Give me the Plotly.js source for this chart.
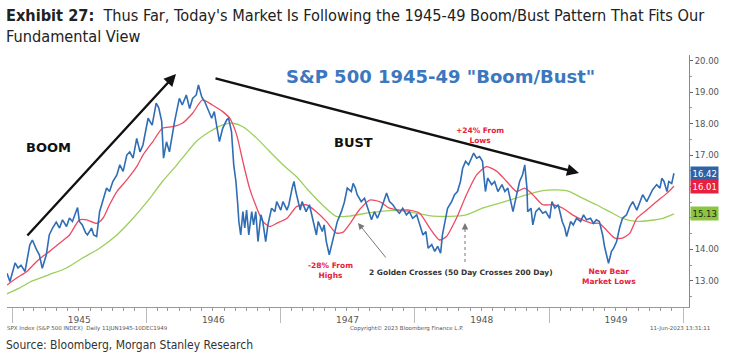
<!DOCTYPE html>
<html><head><meta charset="utf-8">
<script src="https://cdn.plot.ly/plotly-3.0.1.min.js"></script>
<style>html,body{margin:0;padding:0;background:#fff}#chart{width:729px;height:359px}</style>
</head><body><div id="chart"></div>
<script>
const priceDates = ["1944-12-18","1944-12-26","1945-01-09","1945-01-17","1945-01-25","1945-02-05","1945-02-18","1945-02-25","1945-03-08","1945-03-16","1945-03-24","1945-04-04","1945-04-12","1945-04-21","1945-05-01","1945-05-10","1945-05-18","1945-05-29","1945-06-06","1945-06-14","1945-06-28","1945-07-03","1945-07-11","1945-07-20","1945-07-25","1945-08-05","1945-08-11","1945-08-19","1945-08-27","1945-09-05","1945-09-15","1945-09-23","1945-10-02","1945-10-13","1945-10-21","1945-10-30","1945-11-09","1945-11-17","1945-11-26","1945-12-06","1945-12-15","1945-12-23","1946-01-06","1946-01-17","1946-01-28","1946-02-04","1946-02-12","1946-02-17","1946-02-25","1946-03-05","1946-03-13","1946-03-19","1946-04-01","1946-04-09","1946-04-20","1946-04-29","1946-05-07","1946-05-17","1946-05-23","1946-06-01","1946-06-09","1946-06-17","1946-06-28","1946-07-05","1946-07-14","1946-07-19","1946-07-28","1946-08-08","1946-08-13","1946-08-21","1946-08-27","1946-09-02","1946-09-07","1946-09-10","1946-09-15","1946-09-21","1946-09-26","1946-10-01","1946-10-07","1946-10-15","1946-10-20","1946-10-26","1946-11-01","1946-11-09","1946-11-14","1946-11-22","1946-11-28","1946-12-08","1946-12-17","1946-12-22","1947-01-02","1947-01-08","1947-01-19","1947-01-24","1947-02-02","1947-02-07","1947-02-12","1947-02-17","1947-02-24","1947-03-01","1947-03-12","1947-03-21","1947-03-29","1947-04-09","1947-04-14","1947-04-25","1947-04-30","1947-05-06","1947-05-14","1947-05-22","1947-05-28","1947-06-05","1947-06-16","1947-06-24","1947-07-02","1947-07-13","1947-07-18","1947-07-24","1947-07-29","1947-08-09","1947-08-18","1947-08-26","1947-09-06","1947-09-14","1947-09-22","1947-10-03","1947-10-17","1947-10-25","1947-11-03","1947-11-13","1947-11-21","1947-11-30","1947-12-10","1947-12-18","1947-12-27","1948-01-07","1948-01-15","1948-01-24","1948-02-01","1948-02-07","1948-02-17","1948-02-25","1948-03-04","1948-03-12","1948-03-17","1948-03-26","1948-03-31","1948-04-11","1948-04-19","1948-04-27","1948-05-05","1948-05-11","1948-05-19","1948-05-27","1948-06-04","1948-06-10","1948-06-18","1948-06-26","1948-07-04","1948-07-12","1948-07-18","1948-07-29","1948-08-06","1948-08-15","1948-08-26","1948-09-03","1948-09-11","1948-09-19","1948-09-25","1948-10-05","1948-10-13","1948-10-21","1948-10-27","1948-11-02","1948-11-04","1948-11-13","1948-11-18","1948-11-26","1948-12-05","1948-12-15","1948-12-23","1949-01-03","1949-01-09","1949-01-17","1949-01-26","1949-02-06","1949-02-13","1949-02-18","1949-03-01","1949-03-08","1949-03-17","1949-03-28","1949-04-05","1949-04-13","1949-04-24","1949-05-02","1949-05-10","1949-05-18","1949-05-27","1949-06-01","1949-06-07","1949-06-12","1949-06-20","1949-06-26","1949-07-04","1949-07-12","1949-07-20","1949-07-31","1949-08-09","1949-08-17","1949-08-28","1949-09-05","1949-09-13","1949-09-24","1949-10-02","1949-10-10","1949-10-21","1949-10-30","1949-11-04","1949-11-10","1949-11-18","1949-11-23","1949-12-01","1949-12-07"];
const priceValues = [13.24,12.98,13.57,13.41,13.50,13.30,14.14,14.30,14.00,13.83,13.40,13.83,14.46,14.68,14.87,14.68,14.94,14.73,15.00,14.89,15.33,14.89,14.78,14.53,14.46,14.68,14.46,14.41,15.20,15.52,15.95,15.84,16.16,16.37,16.69,16.48,17.00,17.10,16.90,17.53,17.10,17.32,18.17,17.95,18.65,18.50,18.07,16.90,17.42,17.10,17.74,18.06,18.80,18.59,18.91,18.48,18.80,18.91,19.23,18.85,18.70,18.48,18.17,18.38,17.74,17.43,17.85,18.12,18.17,17.74,16.69,16.16,15.42,14.88,14.46,15.20,14.68,15.25,14.46,15.20,14.78,15.20,14.25,15.10,14.89,14.25,14.78,15.31,15.20,15.52,15.25,15.52,15.25,15.42,15.95,16.16,15.84,15.63,15.25,15.52,15.20,15.42,14.99,14.46,14.89,14.57,14.78,14.25,13.83,14.25,14.46,14.89,15.20,15.50,15.95,15.84,16.10,15.95,15.74,15.52,15.63,15.31,14.94,15.20,14.99,15.31,15.79,15.52,15.42,15.25,15.15,15.31,15.10,15.20,14.99,15.10,14.78,14.46,14.57,14.04,14.15,13.94,14.10,13.88,14.46,15.10,15.31,15.52,15.74,15.84,16.16,16.58,16.80,16.69,16.90,17.06,16.90,16.95,16.80,15.84,16.27,16.06,16.16,15.84,16.06,15.84,15.95,15.50,15.20,15.74,16.16,16.37,16.69,15.95,15.20,15.31,14.78,15.20,15.31,15.15,15.20,14.99,15.52,15.31,15.42,14.89,14.68,14.41,14.89,14.78,14.99,14.89,15.10,14.94,14.99,14.83,14.94,14.89,14.46,14.10,13.83,13.56,13.94,14.04,14.25,14.68,14.99,15.10,15.36,15.52,15.25,15.47,15.74,15.52,15.74,15.90,16.06,15.95,16.26,16.16,15.84,16.16,16.10,16.42];

const ma50Dates = ["1944-12-18","1945-01-14","1945-02-10","1945-03-08","1945-03-24","1945-04-12","1945-05-10","1945-06-06","1945-07-03","1945-07-23","1945-08-19","1945-09-05","1945-09-23","1945-10-13","1945-11-09","1945-12-06","1945-12-23","1946-01-19","1946-02-14","1946-03-13","1946-04-09","1946-05-07","1946-06-03","1946-06-30","1946-07-28","1946-08-16","1946-09-04","1946-09-21","1946-10-09","1946-10-29","1946-11-14","1946-12-03","1946-12-22","1947-01-19","1947-02-14","1947-03-12","1947-04-09","1947-05-06","1947-06-02","1947-06-21","1947-07-07","1947-08-04","1947-09-01","1947-09-28","1947-10-25","1947-11-21","1947-12-18","1948-01-15","1948-02-12","1948-03-09","1948-03-28","1948-04-24","1948-05-21","1948-06-18","1948-07-15","1948-08-12","1948-09-08","1948-10-05","1948-10-27","1948-11-18","1948-12-15","1949-01-12","1949-02-08","1949-03-06","1949-04-02","1949-04-29","1949-05-18","1949-06-10","1949-06-29","1949-07-20","1949-08-09","1949-08-28","1949-09-24","1949-10-21","1949-11-18","1949-12-07"];
const ma50Values = [12.87,13.10,13.30,13.61,13.77,13.93,14.20,14.46,14.94,14.94,14.83,14.99,15.42,15.84,16.21,16.63,17.00,17.43,17.85,17.90,18.01,18.33,18.75,18.59,18.38,18.17,17.64,16.79,15.95,15.31,14.89,14.73,14.83,14.99,15.36,15.42,15.20,14.89,14.52,14.55,14.78,15.26,15.57,15.52,15.31,15.25,15.25,15.15,14.67,14.30,14.41,14.99,15.73,16.37,16.63,16.48,16.16,15.84,15.95,15.74,15.42,15.42,15.31,15.10,14.94,14.83,14.83,14.57,14.36,14.36,14.52,14.99,15.25,15.52,15.79,16.01];

const ma200Dates = ["1944-12-18","1945-01-22","1945-02-25","1945-04-12","1945-05-29","1945-07-11","1945-08-27","1945-10-13","1945-11-26","1946-01-11","1946-02-14","1946-03-19","1946-04-09","1946-05-17","1946-06-22","1946-07-28","1946-08-24","1946-09-21","1946-10-29","1946-12-03","1947-01-08","1947-02-14","1947-03-21","1947-04-25","1947-06-02","1947-07-07","1947-08-23","1947-10-06","1947-11-21","1948-01-07","1948-02-20","1948-04-06","1948-05-21","1948-07-04","1948-08-20","1948-09-25","1948-11-02","1948-12-15","1949-01-23","1949-02-26","1949-04-02","1949-05-10","1949-06-15","1949-07-20","1949-08-28","1949-10-02","1949-11-07","1949-12-07"];
const ma200Values = [12.59,12.78,13.00,13.20,13.41,13.72,14.04,14.46,14.99,15.63,16.16,16.60,16.90,17.43,17.74,17.96,18.01,17.90,17.53,17.11,16.69,16.31,15.84,15.42,15.05,15.06,15.15,15.22,15.24,15.15,15.06,15.05,15.10,15.31,15.47,15.60,15.74,15.87,15.89,15.84,15.63,15.42,15.20,14.99,14.89,14.92,14.99,15.13];

const yTickVals = [13,14,15,16,17,18,19,20];
const yTickText = ["13.00","14.00","","","17.00","18.00","19.00","20.00"];

const lastPrice = priceValues[priceValues.length-1];
const last50 = ma50Values[ma50Values.length-1];
const last200 = ma200Values[ma200Values.length-1];

const BLUE = '#2f6db5', RED = '#ee4a62', GREEN = '#9ccf5a', TXTRED = '#e8203a';
const FF = '"DejaVu Sans", Verdana, sans-serif';
const NARROW = '"Liberation Sans Narrow", "DejaVu Sans Condensed", "Roboto", sans-serif';

const traces = [
  {x: ma200Dates, y: ma200Values, type:'scatter', mode:'lines', line:{color:GREEN, width:1.3, shape:'spline', smoothing:0.6}, hoverinfo:'skip'},
  {x: ma50Dates, y: ma50Values, type:'scatter', mode:'lines', line:{color:RED, width:1.3, shape:'spline', smoothing:0.6}, hoverinfo:'skip'},
  {x: priceDates, y: priceValues, type:'scatter', mode:'lines', line:{color:BLUE, width:1.6}, hoverinfo:'skip'}
];

function pxX(p){ return (p-7)/682; }
function pxY(p){ return (307-p)/252; }

const ann = [];
function txt(t, cx, cy, size, color, fam, opts){
  ann.push(Object.assign({text:t, xref:'paper', yref:'paper', x:pxX(cx), y:pxY(cy), xanchor:'center', yanchor:'middle', showarrow:false, font:{size:size, color:color, family:fam}}, opts||{}));
}
txt('<b>Exhibit 27:</b>  Thus Far, Today\'s Market Is Following the 1945-49 Boom/Bust Pattern That Fits Our<br>Fundamental View', 4, 4, 16.2, '#222', NARROW, {xanchor:'left', yanchor:'top', align:'left'});
txt('<b>S&amp;P 500 1945-49 "Boom/Bust"</b>', 440, 76, 18, '#3b78be', FF);
txt('<b>BOOM</b>', 48, 147, 13, '#111', FF);
txt('<b>BUST</b>', 353, 142, 13, '#111', FF);
txt('<b>+24% From<br>Lows</b>', 480, 135, 7.5, TXTRED, FF);
txt('<b>-28% From<br>Highs</b>', 330, 270, 7.5, TXTRED, FF);
txt('<b>New Bear<br>Market Lows</b>', 609, 276, 7.5, TXTRED, FF);
txt('<b>2 Golden Crosses (50 Day Crosses 200 Day)</b>', 461, 272, 7.5, '#333', FF);

function arrow(hx, hy, tx, ty, color, w, head, size){
  ann.push({xref:'paper', yref:'paper', x:pxX(hx), y:pxY(hy), ax:tx-hx, ay:ty-hy, axref:'pixel', ayref:'pixel', showarrow:true, arrowhead:head, arrowsize:size, arrowwidth:w, arrowcolor:color, text:''});
}
arrow(176, 74, 26, 237, '#111', 2.4, 2, 1);
arrow(579, 173, 214, 78, '#111', 2.4, 2, 1);
arrow(358, 223, 387, 259, '#777', 1, 2, 1.3);
arrow(465, 223, 465, 229, '#777', 1, 2, 1.3);

function tag(v, bg, fc){
  ann.push({xref:'paper', yref:'y', x:1, y:v, xanchor:'left', yanchor:'middle', xshift:1, showarrow:false,
    text:v.toFixed(2), bgcolor:bg, font:{size:8.5, color:fc, family:FF}, borderpad:1.5});
}
tag(lastPrice, '#2f63a8', '#fff');
tag(last50, '#e8203f', '#fff');
tag(last200, '#8cc63f', '#222');

txt('SPX Index (S&amp;P 500 INDEX)  Daily 11JUN1945-10DEC1949', 5, 328, 5.5, '#555', FF, {xanchor:'left'});
txt('Copyright\u00a9 2023 Bloomberg Finance L.P.', 407, 328, 5.5, '#555', FF);
txt('11-Jun-2023 13:31:11', 712, 328, 5.5, '#555', FF, {xanchor:'right'});
txt('Source: Bloomberg, Morgan Stanley Research', 4, 345, 12, '#333', NARROW, {xanchor:'left'});

const layout = {
  width:729, height:359,
  margin:{l:7, r:40, t:55, b:52},
  paper_bgcolor:'#fff', plot_bgcolor:'#fff',
  showlegend:false,
  xaxis:{type:'date', range:['1944-12-18','1950-01-17'], showgrid:false, zeroline:false,
    showline:true, linecolor:'#999', linewidth:1,
    tickmode:'linear', tick0:'1945-01-01', dtick:'M12', tickformat:'%Y',
    ticklabelmode:'period', ticks:'outside', ticklen:15, tickcolor:'#bbb', tickwidth:1,
    ticklabelstandoff:-11,
    minor:{dtick:'M1', tick0:'1945-01-01', ticks:'outside', ticklen:3, tickcolor:'#999', showgrid:false},
    tickfont:{size:9, color:'#555', family:FF}, fixedrange:true},
  yaxis:{side:'right', range:[12.17,20.18], tickmode:'array', tickvals:yTickVals, ticktext:yTickText,
    showgrid:false, zeroline:false,
    showline:true, linecolor:'#888', linewidth:1, ticks:'outside', ticklen:3, tickcolor:'#666',
    minor:{dtick:0.5, ticks:'outside', ticklen:2, tickcolor:'#999'},
    tickfont:{size:8.5, color:'#555', family:FF}, fixedrange:true},
  annotations: ann,
  shapes:[{type:'line', xref:'paper', yref:'paper', x0:pxX(465), x1:pxX(465), y0:pxY(229), y1:pxY(264), line:{color:'#777', width:1, dash:'dot'}}]
};
Plotly.newPlot('chart', traces, layout, {staticPlot:true, displayModeBar:false});
</script></body></html>
